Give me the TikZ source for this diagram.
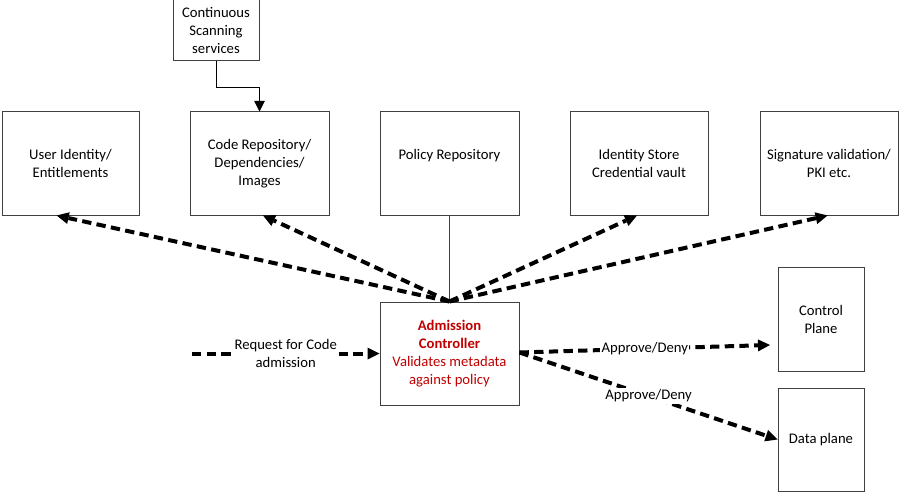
\documentclass[tikz,border=0pt]{standalone}
\usepackage{fontspec}
\setmainfont{Carlito}
\usetikzlibrary{arrows.meta,calc}
\definecolor{boxgray}{HTML}{404040}
\definecolor{acred}{HTML}{C00000}
\begin{document}
\begin{tikzpicture}[x=0.75pt,y=-0.75pt,
  txt/.style={font=\fontsize{11}{13.5}\selectfont},
  box/.style={txt,draw=boxgray,line width=0.75pt,inner sep=0pt,align=center},
  sz/.style 2 args={minimum width=#1*0.75pt,minimum height=#2*0.75pt},
  darrow/.style={line width=3pt,dash pattern=on 7pt off 4pt,
    -{Triangle[length=9pt,width=9pt,line width=0pt]}},
  thinarrow/.style={line width=0.75pt,-{Triangle[length=8pt,width=8pt]}},
  lbl/.style={txt,fill=white,inner sep=1pt,align=center}]
\useasboundingbox (0,0) rectangle (904,492);
% boxes
\node[box,sz={86}{61}] (scan) at (216,30.5) {Continuous\\Scanning\\services};
\node[box,sz={137}{103}] (user) at (70.5,163.5) {User Identity/\\Entitlements};
\node[box,sz={139}{103}] (code) at (259.5,163.5) {Code Repository/\\Dependencies/\\Images};
\node[box,sz={139}{103}] (policy) at (449.5,163.5) {Policy Repository\\~};
\node[box,sz={138}{103}] (idstore) at (639,163.5) {Identity Store\\Credential vault};
\node[box,sz={138}{103}] (sig) at (829,163.5) {Signature validation/\\PKI etc.};
\node[box,sz={139}{103},text=acred] (adm) at (449.5,353.5)
  {\textbf{Admission}\\\textbf{Controller}\\Validates metadata\\against policy};
\node[box,sz={86}{104}] (ctrl) at (821,319) {Control\\Plane};
\node[box,sz={86}{103}] (data) at (821,439.5) {Data plane};
% connectors
\draw[thinarrow] (scan.south) -- ++(0,26) -| (code.north);
\draw[boxgray,line width=0.75pt] (policy.south) -- (adm.north);
\draw[darrow] (adm.north) -- ($(user.south west)!0.4!(user.south east)$);
\draw[darrow] (adm.north) -- ($(code.south west)!0.525!(code.south east)$);
\draw[darrow] (adm.north) -- ($(idstore.south west)!0.485!(idstore.south east)$);
\draw[darrow] (adm.north) -- ($(sig.south west)!0.49!(sig.south east)$);
\coordinate (req) at (192,353.5);
\draw[darrow] (req) -- node[lbl] (reqlbl) {Request for Code\\admission} (adm.west);
\coordinate (cpin) at (770,345);
\draw[darrow] ($(adm.east)+(0,-1)$) -- node[lbl] (ad1) {Approve/Deny} (cpin);
\draw[darrow] ($(adm.east)+(0,-1)$) -- node[lbl] (ad2) {Approve/Deny} (data.west);
\end{tikzpicture}
\end{document}
